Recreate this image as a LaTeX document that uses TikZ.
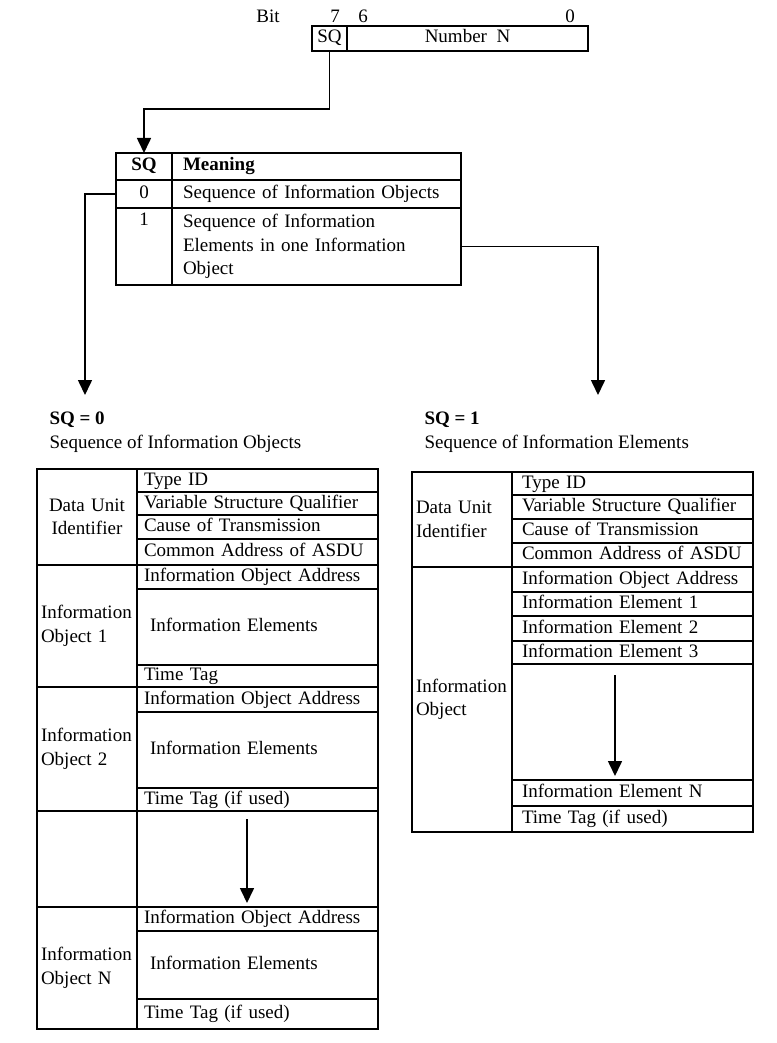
\documentclass[tikz,border=0pt]{standalone}
\usepackage{fontspec}
\setmainfont{Liberation Serif}
\usetikzlibrary{arrows.meta}
\usetikzlibrary{positioning}
\newcommand{\bodyfont}{\fontsize{19}{23.5}\selectfont}

\tikzset{
	cell/.style={draw, line width=1.8pt, anchor=north west, outer sep=0pt, inner ysep=0pt},
	oneline/.style={text height=13pt, text depth=4pt},
	lfield/.style={cell, oneline, align=left, inner xsep=7pt, text width=227pt},
	lelem/.style={cell, oneline, align=left, inner xsep=13pt, text width=215pt},
	rfield/.style={cell, oneline, align=left, inner xsep=10pt, text width=221pt},
	lhead/.style={cell, inner xsep=4pt, text width=92pt},
	arr/.style={line width=1.6pt, -{Triangle[length=15pt, width=14pt]}},
}

\begin{document}
\begin{tikzpicture}[x=1pt, y=-1pt, font=\bodyfont]
	\useasboundingbox (0,0) rectangle (776,1043);

	% octet with SQ bit
	\node[anchor=base] (bit) at (268,23) {Bit};
	\node[anchor=base] (b7) at (335,23) {7};
	\node[anchor=base] (b6) at (363,23) {6};
	\node[anchor=base] (b0) at (570,23) {0};
	\node[cell, minimum width=35, minimum height=25, inner xsep=0pt, oneline] (regSQ) at (312,26) {SQ};
	\node[cell, minimum width=241, minimum height=25, oneline] (regN) at (347,26) {Number\ \ N};

	% meaning of SQ
	\begin{scope}[every node/.style={cell}]
		\node[minimum width=56, minimum height=27, oneline, font=\bodyfont\bfseries] (hSQ) at (116,153) {SQ};
		\node[minimum height=27, oneline, align=left, inner xsep=11pt, text width=267pt, font=\bodyfont\bfseries] (hM) at (172,153) {Meaning};
		\node[minimum width=56, minimum height=28, oneline] (s0) at (116,180) {0};
		\node[minimum height=28, oneline, align=left, inner xsep=11pt, text width=267pt] (m0) at (172,180) {Sequence of Information Objects};
		\node[minimum width=56, minimum height=77, align=center, text width=56pt, inner xsep=0pt] (s1) at (116,208) {1\\\strut\\\strut};
		\node[minimum height=77, align=left, inner xsep=11pt, text width=267pt] (m1) at (172,208) {Sequence of Information\\Elements in one Information\\Object};
	\end{scope}

	% SQ = 0
	\node[anchor=base west, font=\bodyfont\bfseries] (sq0) at (46,424) {SQ = 0};
	\node[anchor=base west] (sq0txt) at (46,448) {Sequence of Information Objects};

	\node[lhead, align=center, minimum height=96] (ldui) at (37,469) {Data Unit\\Identifier};
	\foreach \n/\y/\h/\t in {1/469/23/Type ID, 2/492/23/Variable Structure Qualifier,
	                         3/515/24/Cause of Transmission, 4/539/26/Common Address of ASDU}
		{\node[lfield, minimum height=\h] (lf\n) at (137,\y) {\t};}

	\node[lhead, align=left, minimum height=122] (lio1) at (37,565) {Information\\Object 1};
	\node[lfield, minimum height=24] (lioa1) at (137,565) {Information Object Address};
	\node[lelem, minimum height=76] (lie1) at (137,589) {Information Elements};
	\node[lfield, minimum height=22] (ltt1) at (137,665) {Time Tag};

	\node[lhead, align=left, minimum height=124] (lio2) at (37,687) {Information\\Object 2};
	\node[lfield, minimum height=25] (lioa2) at (137,687) {Information Object Address};
	\node[lelem, minimum height=76] (lie2) at (137,712) {Information Elements};
	\node[lfield, minimum height=23] (ltt2) at (137,788) {Time Tag (if used)};

	\node[lhead, minimum height=96] (lgapL) at (37,811) {};
	\node[lfield, minimum height=96] (lgapR) at (137,811) {};

	\node[lhead, align=left, minimum height=122] (lioN) at (37,907) {Information\\Object N};
	\node[lfield, minimum height=24] (lioaN) at (137,907) {Information Object Address};
	\node[lelem, minimum height=68] (lieN) at (137,931) {Information Elements};
	\node[lfield, minimum height=30] (lttN) at (137,999) {Time Tag (if used)};

	% SQ = 1
	\node[anchor=base west, font=\bodyfont\bfseries] (sq1) at (421,424) {SQ = 1};
	\node[anchor=base west] (sq1txt) at (421,448) {Sequence of Information Elements};

	\node[lhead, align=left, minimum height=95] (rdui) at (412,472) {Data Unit\\Identifier};
	\foreach \n/\y/\h/\t in {1/472/23/Type ID, 2/495/24/Variable Structure Qualifier,
	                         3/519/24/Cause of Transmission, 4/543/24/Common Address of ASDU}
		{\node[rfield, minimum height=\h] (rf\n) at (512,\y) {\t};}

	\node[lhead, align=left, minimum height=265] (rio) at (412,567) {Information\\Object};
	\node[rfield, minimum height=25] (rioa) at (512,567) {Information Object Address};
	\foreach \n/\y/\h in {1/592/24, 2/616/25, 3/641/23}
		{\node[rfield, minimum height=\h] (rie\n) at (512,\y) {Information Element \n};}
	\node[rfield, minimum height=116] (rgap) at (512,664) {};
	\node[rfield, minimum height=26] (rieN) at (512,780) {Information Element N};
	\node[rfield, minimum height=26] (rtt) at (512,806) {Time Tag (if used)};

	% connectors
	\coordinate (k1) at (144,109);
	\coordinate (t0) at (85,395);
	\coordinate (t1) at (598,395);
	\coordinate (g1) at (247,819);
	\coordinate (g2) at (247,903);
	\coordinate (g3) at (615,675);
	\coordinate (g4) at (615,776);

	\draw[arr] (regSQ.south) |- (k1) -- (hSQ.north);
	\draw[arr] (s0.west) -| (t0);
	\draw[arr] (m1.east) -| (t1);
	\draw[arr] (g1) -- (g2);
	\draw[arr] (g3) -- (g4);
\end{tikzpicture}
\end{document}
